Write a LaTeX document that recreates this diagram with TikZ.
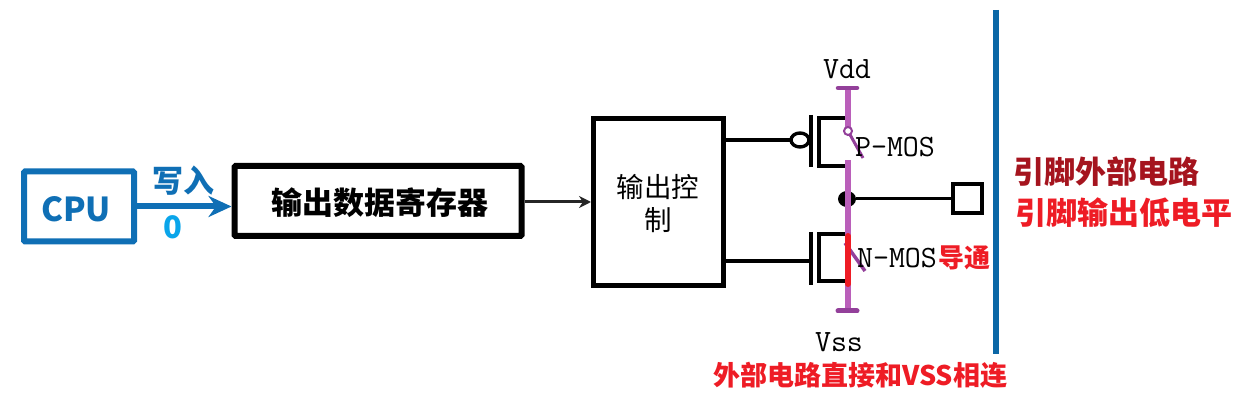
\documentclass[tikz,border=0pt]{standalone}
\usepackage{fontspec}
\setmainfont{Liberation Sans}
\newfontfamily\cjk{Noto Sans CJK SC}
\usepackage{xcolor}
\usetikzlibrary{arrows.meta,shapes.geometric}
\definecolor{cpublue}{HTML}{0F6FB5}
\definecolor{railblue}{HTML}{0B67A6}
\definecolor{zeroblue}{HTML}{0AA5EA}
\definecolor{mospurple}{HTML}{BA5FBA}
\definecolor{mosdark}{HTML}{93409A}
\definecolor{onred}{HTML}{EE1C25}
\definecolor{darkred}{HTML}{A5141E}
\newcommand{\pxfont}[1]{\fontsize{#1}{#1}\selectfont}

\begin{document}
\begin{tikzpicture}[x=1pt,y=-1pt,>=stealth,
    main box/.style={draw,line width=5pt,inner sep=0pt},
    mos line/.style={line width=3.4pt},
    mos rail/.style={mospurple,line width=5.5pt},
    mos label/.style={font=\ttfamily\pxfont{31},inner sep=0pt},
    red label/.style={text=onred,font=\cjk\bfseries\pxfont{27},inner sep=0pt}]
    \useasboundingbox (0,0) rectangle (1254,406);

    \node[main box,draw=cpublue,line width=6pt,rounded corners=1pt,minimum width=110pt,minimum height=70pt] (cpu) at (79,206.5) {};
    \node[text=cpublue,font=\cjk\bfseries\pxfont{33},inner sep=0pt] (cpulabel) at (76,209) {CPU};
    \node[main box,line width=6pt,rounded corners=1pt,minimum width=287pt,minimum height=70pt] (reg) at (378,201) {};
    \node[font=\cjk\bfseries\pxfont{31},inner sep=0pt] (reglabel) at (380,203) {输出数据寄存器};
    \node[main box,minimum width=130pt,minimum height=167pt] (ctrl) at (658.5,202) {};
    \node[font=\cjk\pxfont{27.5},inner sep=0pt] (ctrl1) at (658,187) {输出控};
    \node[font=\cjk\pxfont{27.5},inner sep=0pt] (ctrl2) at (658,220) {制};

    \node[text=cpublue,font=\cjk\bfseries\pxfont{31},inner sep=0pt] (write) at (183,181) {写入};
    \node[text=zeroblue,font=\cjk\bfseries\pxfont{31},inner sep=0pt] (zero) at (173,227) {0};

    % nodes of the two transistors
    \coordinate (pin) at (724,140);
    \coordinate (pbub) at (790,140);
    \coordinate (ntin) at (724,261);
    \coordinate (ngate) at (811,261);
    \coordinate (top) at (848,88);
    \coordinate (bot) at (848,311);
    \coordinate (sw1) at (848,131);
    \coordinate (sw2) at (863,158);
    \coordinate (low) at (848,160);
    \coordinate (sw3) at (845,243);
    \coordinate (sw4) at (865,271);
    \coordinate (red1) at (848,236);
    \coordinate (red2) at (848,284);
    \node[ellipse,fill,minimum width=18pt,minimum height=16pt,inner sep=0pt] (mid) at (847,199) {};
    \node[draw,line width=4pt,minimum width=29pt,minimum height=29pt,inner sep=0pt] (pad) at (967,199) {};

    \draw[mos line] (pin) to (pbub);
    \node[draw,ellipse,line width=3.4pt,fill=white,minimum width=18pt,minimum height=14pt,inner sep=0pt] (bubble) at (800,140) {};
    \draw[mos line] (811,115) to (811,167);
    \draw[mos line] (847,118) -- (819,118) -- (819,166) -- (847,166);
    \draw[mos line] (ntin) to (ngate);
    \draw[mos line] (811,232) to (811,285);
    \draw[mos line] (847,234) -- (819,234) -- (819,281) -- (847,281);
    \draw[line width=3pt] (mid) to (pad);

    \draw[mos rail] (top) to (sw1);
    \draw[mos rail] (low) to (bot);
    \draw[mosdark,line width=4.5pt,line cap=round] (838,88) to (857,88);
    \draw[mosdark,line width=5pt,line cap=round] (838,311) to (857,311);
    \draw[mosdark,line width=3pt] (sw1) to (sw2);
    \draw[mosdark,line width=3.5pt] (sw3) to (sw4);
    \node[circle,draw=mosdark,fill=white,line width=2pt,minimum size=8pt,inner sep=0pt] (swdot) at (sw1) {};
    \draw[onred,line width=6pt,line cap=round] (red1) to (red2);

    \draw[draw=cpublue,line width=6pt,-{Stealth[length=23pt,width=21pt]}] (cpu.east) -- (reg.west |- cpu.east);
    \draw[black!85,line width=3pt,-{Stealth[length=12pt,width=12pt]}] (reg.east |- ctrl.west) -- (ctrl.west);
    \draw[railblue,line width=6pt] (996,10) to (996,354);

    \node[mos label] (vdd) at (847,69) {Vdd};
    \node[mos label] (vss) at (839,342) {Vss};
    \node[mos label] (pmos) at (895,147) {P-MOS};
    \node[mos label] (nmos) at (897,258) {N-MOS};

    \node[red label,font=\cjk\bfseries\pxfont{26}] (on) at (964,258) {导通};
    \node[red label,text=darkred,font=\cjk\bfseries\pxfont{31}] (ext) at (1106,172) {引脚外部电路};
    \node[red label,font=\cjk\bfseries\pxfont{31}] (outlow) at (1124,213) {引脚输出低电平};
    \node[red label] (vssnote) at (860,375) {外部电路直接和VSS相连};
\end{tikzpicture}
\end{document}
